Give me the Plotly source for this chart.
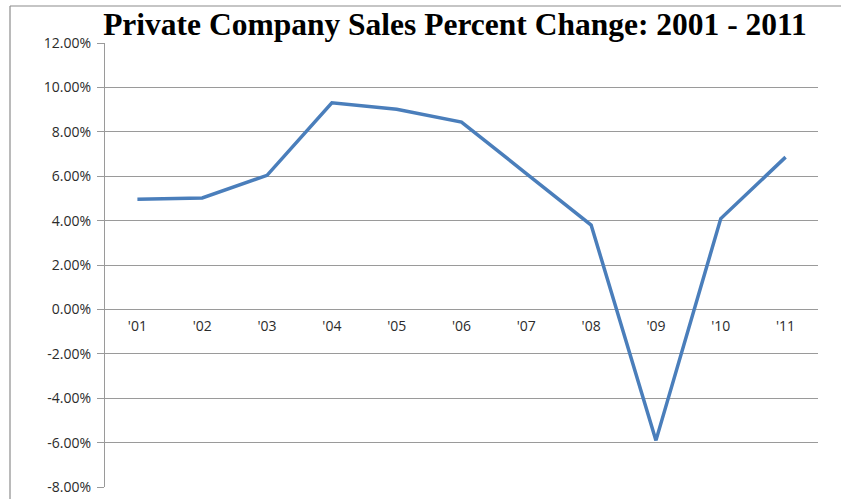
import plotly.graph_objects as go

years = ["'01", "'02", "'03", "'04", "'05", "'06", "'07", "'08", "'09", "'10", "'11"]
pct_change = [4.96, 5.02, 6.04, 9.31, 9.02, 8.44, 6.12, 3.80, -5.90, 4.09, 6.86]
y_ticks = [-8, -6, -4, -2, 0, 2, 4, 6, 8, 10, 12]
y_tick_labels = [f"{v:.2f}%" for v in y_ticks]
title = "Private Company Sales Percent Change: 2001 - 2011"

W, H = 841, 499
ML, MR, MT, MB = 105, 23, 43, 12
pw, ph = W - ML - MR, H - MT - MB

fig = go.Figure()
fig.add_trace(go.Scatter(
    x=list(range(len(years))), y=pct_change, mode="lines",
    line=dict(color="#4A7EBB", width=3.5), hoverinfo="skip", showlegend=False,
))

grid = "#9a9a9a"
tickfont = dict(family="Open Sans", size=14, color="#2b2b2b")
ymin, ymax = y_ticks[0], y_ticks[-1]

fig.update_layout(
    width=W, height=H,
    margin=dict(l=ML, r=MR, t=MT, b=MB, autoexpand=False),
    paper_bgcolor="white", plot_bgcolor="white",
    title=dict(text=f"<b>{title}</b>", x=455 / W, xanchor="center",
               y=1 - 24 / H, yanchor="middle", automargin=False,
               font=dict(family="Liberation Serif", size=31.5, color="black")),
    xaxis=dict(range=[-0.5, len(years) - 0.5], tickmode="array",
               tickvals=list(range(len(years))), ticktext=years,
               showgrid=False, zeroline=False, showline=False, ticks="",
               anchor="free", position=(0 - ymin) / (ymax - ymin), automargin=False,
               tickfont=tickfont, ticklabelstandoff=7),
    yaxis=dict(range=[ymin, ymax], tickmode="array", tickvals=y_ticks,
               ticktext=y_tick_labels, showgrid=True, gridcolor=grid, gridwidth=1.2,
               zeroline=False, showline=True, linecolor=grid, linewidth=1.2,
               ticks="outside", ticklen=7, tickcolor=grid, tickwidth=1.2,
               automargin=False, tickfont=tickfont, ticklabelstandoff=3),
)

# chart-area border (left and top edges visible in the reference)
bx = (10 - ML) / pw
by = 1 + (MT - 6) / ph
fig.add_shape(type="line", xref="paper", yref="paper", x0=bx, x1=bx,
              y0=by, y1=-(MB + 2) / ph, line=dict(color="#8c8c8c", width=1.2))
fig.add_shape(type="line", xref="paper", yref="paper", x0=bx, x1=(W + 2 - ML) / pw,
              y0=by, y1=by, line=dict(color="#8c8c8c", width=1.2))

fig.write_html("out.html", config={"displayModeBar": False},
               post_script="document.body.style.margin='0';")
